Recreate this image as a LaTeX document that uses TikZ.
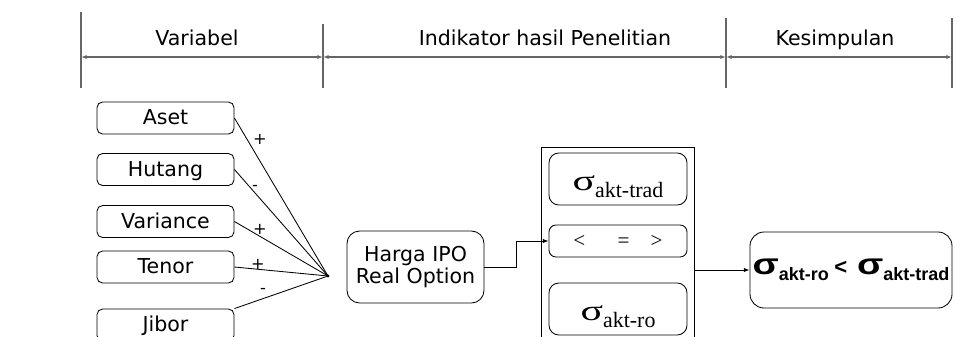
\documentclass[tikz,border=0pt]{standalone}
\usepackage{fontspec}
\setmainfont{DejaVu Sans}
\newfontfamily\sgfont{Liberation Serif}
\newfontfamily\kfont{Liberation Sans}
\usetikzlibrary{arrows.meta}
\newcommand{\sgm}[1]{{\sgfont\fontsize{20.5}{22}\selectfont\scalebox{1.45}[1]{σ}\raisebox{-4.5pt}{\fontsize{15.6}{16}\selectfont #1}}}
\newcommand{\ksgm}[1]{{\kfont\bfseries\fontsize{21}{22}\selectfont\scalebox{1.3}[1]{σ}\raisebox{-4pt}{\fontsize{12.8}{13}\selectfont #1}}}
\begin{document}
\begin{tikzpicture}[x=0.025cm,y=-0.025cm,line width=0.6pt,
            txt/.style={font=\fontsize{14.6}{15.6}\selectfont},
            var/.style={txt,draw,rounded corners=4pt,inner sep=0pt,text height=10.6pt,text depth=1pt,minimum width=3.425cm,minimum height=0.8cm},
            sgbox/.style={draw,rounded corners=7pt,inner sep=0pt,text height=18pt,text depth=1pt,minimum width=3.45cm,minimum height=1.3cm},
            sign/.style={inner sep=0pt,font=\fontsize{11.5}{12}\selectfont},
            hdr/.style={draw=black!60,line width=0.9pt},
            tip/.style={-{Latex[length=4pt,width=3pt]}}]
            \clip (0,0) rectangle (964,336);
            \draw[hdr] (81,12) -- (81,88);
            \draw[hdr] (323,24) -- (323,88);
            \draw[hdr] (726,18) -- (726,88);
            \draw[hdr] (952,18) -- (952,88);
            \draw[hdr,{Latex[length=4pt,width=3pt]}-{Latex[length=4pt,width=3pt]}] (81,57) -- (323,57);
            \draw[hdr,{Latex[length=4pt,width=3pt]}-{Latex[length=4pt,width=3pt]}] (323,57) -- (726,57);
            \draw[hdr,{Latex[length=4pt,width=3pt]}-{Latex[length=4pt,width=3pt]}] (726,57) -- (952,57);
            \node[txt,anchor=base] (h1) at (197,45) {Variabel};
            \node[txt,anchor=base] (h2) at (545,45) {Indikator hasil Penelitian};
            \node[txt,anchor=base] (h3) at (835,45) {Kesimpulan};
            \node[var] (aset) at (165.5,118) {Aset};
            \node[var] (hutang) at (165.5,169.5) {Hutang};
            \node[var] (variance) at (165.5,221.5) {Variance};
            \node[var] (tenor) at (165.5,267) {Tenor};
            \node[var] (jibor) at (165.5,325) {Jibor};
            \coordinate (join) at (328,276);
            \draw (aset.east) -- (join);
            \draw (hutang.east) -- (join);
            \draw (variance.east) -- (join);
            \draw (tenor.east) -- (join);
            \draw (jibor.north east) -- (join);
            \fill (join) circle (1.6);
            \node[sign] (s1) at (260,139) {+};
            \node[sign] (s2) at (255,188) {-};
            \node[sign] (s3) at (260,229) {+};
            \node[sign] (s4) at (258,264) {+};
            \node[sign] (s5) at (263,291) {-};
            \node[txt,draw,rounded corners=9pt,align=center,minimum width=3.425cm,minimum height=1.8cm,inner sep=0pt] (harga) at (415.5,267) {Harga IPO\\Real Option};
            \node[draw,minimum width=3.825cm,minimum height=4.95cm,inner sep=0pt] (box) at (617.5,246) {};
            \node[sgbox] (trad) at (618,179) {\sgm{akt-trad}};
            \node[draw,rounded corners=5pt,inner sep=0pt,minimum width=3.45cm,minimum height=0.8cm] (cmp) at (618,241) {\sgfont\fontsize{15}{16}\selectfont <\hspace{23pt}=\hspace{15pt}>};
            \node[sgbox] (ro) at (618,309) {\sgm{akt-ro}};
            \node[draw,rounded corners=10pt,inner sep=0pt,minimum width=5.05cm,minimum height=1.9cm] (kes) at (851,270) {\ksgm{akt-ro}\hspace{4pt}{\kfont\bfseries\fontsize{15.7}{16}\selectfont<}\hspace{7pt}\ksgm{akt-trad}};
            \draw[tip] (harga.east) -- ++(32,0) |- (cmp.west);
            \draw[tip] (box.east |- kes.west) -- (kes.west);
        \end{tikzpicture}
\end{document}
